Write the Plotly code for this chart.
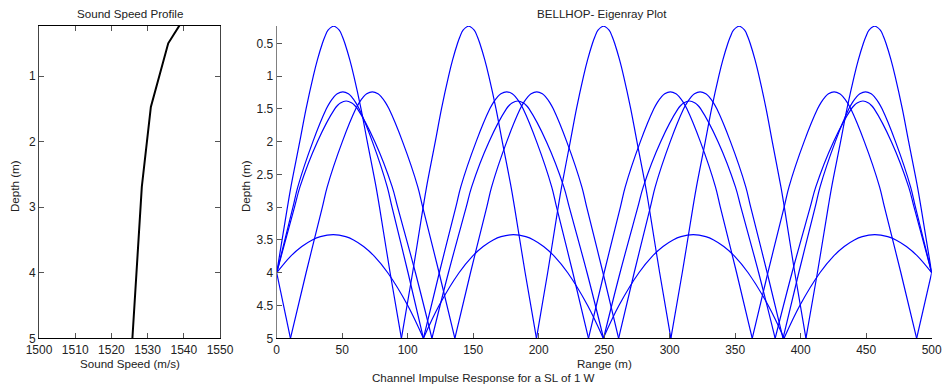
import plotly.graph_objects as go

W, H = 943, 385

# ---------------- Sound speed profile ----------------
ssp_depth = [0.0, 0.5, 1.47, 2.69, 5.0]
ssp_speed = [1541.4, 1535.7, 1530.9, 1528.4, 1525.8]

# ---------------- Eigenrays: key nodes (range m, depth m) ----------------
# source / receiver at depth 4, bounces at bottom (5 m), upper turning points
ray_T_range = [0, 43.5, 95.2, 146.5, 198.3, 249.5, 300.9, 353.0, 404.0, 456.5, 500]
ray_T_depth = [4, 0.24, 5, 0.24, 5, 0.24, 5, 0.24, 5, 0.24, 4]

ray_A_range = [0, 50.5, 112.0, 175.5, 238.0, 300.5, 363.0, 425.5, 488.5, 500]
ray_A_depth = [4, 1.24, 5, 1.24, 5, 1.24, 5, 1.24, 5, 4]

ray_B_range = [0, 10.5, 73.0, 136.0, 198.5, 261.0, 323.2, 386.5, 449.5, 500]
ray_B_depth = [4, 5, 1.24, 5, 1.24, 5, 1.24, 5, 1.24, 4]

ray_C_range = [0, 53.0, 118.5, 184.0, 249.5, 315.0, 380.5, 447.5, 500]
ray_C_depth = [4, 1.38, 5, 1.38, 5, 1.38, 5, 1.38, 4]

ray_D_range = [0, 43.2, 112.0, 180.7, 249.3, 318.0, 387.3, 456.5, 500]
ray_D_depth = [4, 3.42, 5, 3.42, 5, 3.42, 5, 3.42, 4]

# ---------------- Ray shapes: horizontal offset from turning point vs depth ----------------
prof_T_depth = [0.24, 0.3, 0.4, 0.5, 0.75, 1.0, 1.5, 2.0, 2.7, 3.0, 4.0, 5.0]
prof_T_offset = [0, 4.2, 6.6, 8.4, 12.1, 15.2, 20.6, 25.3, 32.0, 34.5, 42.5, 51.0]

prof_A_depth = [1.24, 1.27, 1.32, 1.4, 1.5, 2.0, 2.69, 3.0, 4.0, 5.0]
prof_A_offset = [0, 4.4, 7.1, 10.1, 12.9, 23.4, 35.2, 39.0, 51.7, 63.9]

prof_C_depth = [1.38, 1.41, 1.45, 1.5, 2.0, 2.69, 3.0, 4.0, 5.0]
prof_C_offset = [0, 4.4, 6.7, 8.75, 22.1, 35.5, 39.7, 53.4, 66.1]

prof_D_depth = [3.42, 3.45, 3.5, 3.6, 3.75, 4.0, 4.5, 5.0]
prof_D_offset = [0, 9.5, 15.5, 23.2, 31.5, 41.7, 57.0, 69.0]

rays = [
    (ray_T_range, ray_T_depth, prof_T_depth, prof_T_offset),
    (ray_A_range, ray_A_depth, prof_A_depth, prof_A_offset),
    (ray_B_range, ray_B_depth, prof_A_depth, prof_A_offset),
    (ray_C_range, ray_C_depth, prof_C_depth, prof_C_offset),
    (ray_D_range, ray_D_depth, prof_D_depth, prof_D_offset),
]


def interp(x, xs, ys):
    if x <= xs[0]:
        return ys[0]
    for i in range(1, len(xs)):
        if x <= xs[i]:
            t = (x - xs[i - 1]) / (xs[i] - xs[i - 1])
            return ys[i - 1] + t * (ys[i] - ys[i - 1])
    return ys[-1]


def half(vr, vd, er, ed, pd, po):
    """points from turning point (vr, vd) to end point (er, ed)"""
    direction = 1 if er > vr else -1
    span = abs(er - vr)
    scale = span / interp(ed, pd, po)
    pts = [(vr, vd)]
    for d, o in zip(pd, po):
        if vd < d < ed - 1e-6:
            pts.append((vr + direction * o * scale, d))
    pts.append((er, ed))
    return pts


def build(rr, dd, pd, po):
    xs, ys = [], []
    seg = [(rr[0], dd[0])]
    for i in range(len(rr) - 1):
        a = (rr[i], dd[i])
        b = (rr[i + 1], dd[i + 1])
        if a[1] < 3.99:
            pts = half(a[0], a[1], b[0], b[1], pd, po)
        elif b[1] < 3.99:
            pts = list(reversed(half(b[0], b[1], a[0], a[1], pd, po)))
        else:
            pts = [a, b]
        seg.extend(pts[1:])
        if b[1] >= 5 - 1e-9:
            xs += [p[0] for p in seg] + [None]
            ys += [p[1] for p in seg] + [None]
            seg = [b]
    xs += [p[0] for p in seg]
    ys += [p[1] for p in seg]
    return xs, ys


fig = go.Figure()

fig.add_trace(go.Scatter(x=ssp_speed, y=ssp_depth, mode="lines",
                         line=dict(color="black", width=2),
                         xaxis="x", yaxis="y", showlegend=False))

for rr, dd, pd, po in rays:
    xs, ys = build(rr, dd, pd, po)
    fig.add_trace(go.Scatter(x=xs, y=ys, mode="lines",
                             line=dict(color="#0000ff", width=1.2, shape="spline", smoothing=1.0),
                             connectgaps=False, xaxis="x2", yaxis="y2", showlegend=False))


def fx(px):
    return px / W


def fy(py):
    return 1 - py / H


ydom = [fy(338.3), fy(26)]
font = dict(family="Liberation Sans, Arial, sans-serif", size=11.6, color="#222222")
tfont = dict(family="Liberation Sans, Arial, sans-serif", size=12, color="#222222")

common = dict(showgrid=False, zeroline=False, ticks="inside", ticklen=5,
              tickcolor="#555555", showline=True, linewidth=1, tickfont=tfont)

fig.update_layout(
    width=W, height=H,
    margin=dict(l=0, r=0, t=0, b=0),
    paper_bgcolor="white", plot_bgcolor="white",
    template="none",
    font=font,
    xaxis=dict(domain=[fx(39), fx(220)], range=[1500, 1550],
               tickvals=[1500, 1510, 1520, 1530, 1540, 1550],
               anchor="y", mirror="allticks", linecolor="black", automargin=False, **common),
    yaxis=dict(domain=ydom, range=[5, 0.236], tickvals=[1, 2, 3, 4, 5],
               anchor="x", mirror="allticks", linecolor="#444444", automargin=False, **common),
    xaxis2=dict(domain=[fx(276.7), fx(931.7)], range=[0, 500],
                tickvals=list(range(0, 501, 50)),
                anchor="y2", linecolor="black", automargin=False, **common),
    yaxis2=dict(domain=ydom, range=[5, 0.236],
                tickvals=[0.5, 1, 1.5, 2, 2.5, 3, 3.5, 4, 4.5, 5],
                ticktext=["0.5", "1", "1.5", "2", "2.5", "3", "3.5", "4", "4.5", "5"],
                anchor="x2", linecolor="#808080", automargin=False, **common),
)


def ann(text, px, py, angle=0):
    fig.add_annotation(text=text, x=fx(px), y=fy(py), xref="paper", yref="paper",
                       xanchor="center", yanchor="middle", showarrow=False,
                       textangle=angle, font=font)


ann("Sound Speed Profile", 129.5, 13)
ann("BELLHOP- Eigenray Plot", 602, 13)
ann("Sound Speed (m/s)", 129.5, 363)
ann("Range (m)", 604, 363)
ann("Channel Impulse Response for a SL of 1 W", 484, 377)
ann("Depth (m)", 15, 186, -90)
ann("Depth (m)", 246, 186, -90)

fig.write_html(
    "out.html",
    config={"displayModeBar": False},
    post_script="document.body.style.margin='0';document.body.style.overflow='hidden';",
)
